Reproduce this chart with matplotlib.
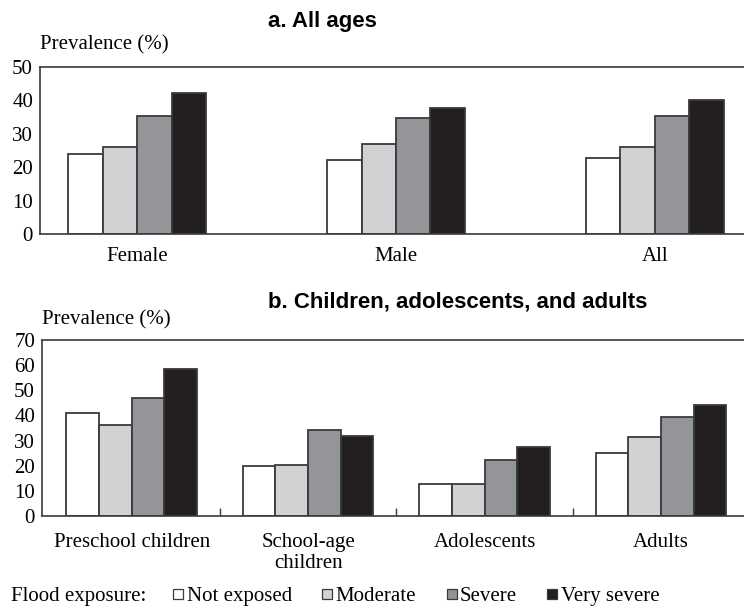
import numpy as np
import matplotlib
matplotlib.use("Agg")
import matplotlib.pyplot as plt
from matplotlib.lines import Line2D

# Daten: Prävalenz (%) nach Überschwemmungs-Exposition
exposure_levels = ["Not exposed", "Moderate", "Severe", "Very severe"]
exposure_colors = ["#ffffff", "#d1d2d4", "#939598", "#231f20"]

sex_groups = ["Female", "Male", "All"]
sex_values = [
    [24.0, 22.3, 22.9],   # Not exposed
    [25.9, 26.9, 25.9],   # Moderate
    [35.3, 34.7, 35.3],   # Severe
    [42.2, 37.7, 40.2],   # Very severe
]

age_groups = ["Preschool children", "School-age\nchildren", "Adolescents", "Adults"]
age_values = [
    [41.1, 19.7, 12.7, 24.9],
    [36.1, 20.4, 12.8, 31.6],
    [46.9, 34.1, 22.3, 39.2],
    [58.5, 31.7, 27.6, 44.3],
]

serif = ["Liberation Serif", "DejaVu Serif"]
title_font = ["Liberation Sans Narrow", "Liberation Sans"]
plt.rcParams["font.family"] = serif
plt.rcParams["font.size"] = 15

W, H = 744, 606
fig = plt.figure(figsize=(W / 100, H / 100), dpi=100)

edge = "#3a3a3a"


def grouped_bars(ax, groups, values, width, ymax, step, pad):
    x = np.arange(len(groups))
    n = len(values)
    for i, vals in enumerate(values):
        offs = (i - (n - 1) / 2) * width
        ax.bar(x + offs, vals, width, color=exposure_colors[i],
               edgecolor=edge, linewidth=1.3, zorder=2)
    ax.set_ylim(0, ymax)
    ax.set_yticks(np.arange(0, ymax + 1, step))
    ax.set_xticks(x)
    ax.set_xticklabels(groups, linespacing=1.15)
    ax.tick_params(axis="y", length=0, pad=5)
    ax.tick_params(axis="x", which="major", length=0, pad=pad)
    for s in ("top", "left", "bottom"):
        ax.spines[s].set_color(edge)
        ax.spines[s].set_linewidth(1.2)
    ax.spines["right"].set_visible(False)
    return x


# a. Alle Altersgruppen
ax_a = fig.add_axes([40 / W, 1 - 234 / H, (W - 40) / W, 167 / H])
grouped_bars(ax_a, sex_groups, sex_values, 0.133, 50, 10, pad=9.5)
ax_a.set_xlim(-0.375, 2.344)

# b. Kinder, Jugendliche, Erwachsene
ax_b = fig.add_axes([42 / W, 1 - 516 / H, (W - 42) / W, 176 / H])
grouped_bars(ax_b, age_groups, age_values, 0.185, 70, 10, pad=12.5)
ax_b.set_xlim(-0.508, 3.47)
ax_b.set_xticks([0.5, 1.5, 2.5], minor=True)
ax_b.tick_params(axis="x", which="minor", direction="in", length=6,
                 width=1.0, color=edge)

# Titel und Achsenbeschriftungen
fig.text(268 / W, 1 - 22 / H, "a. All ages", family=title_font,
         weight="bold", size=16, ha="left", va="center")
fig.text(268 / W, 1 - 302 / H, "b. Children, adolescents, and adults",
         family=title_font, weight="bold", size=16, ha="left", va="center")
fig.text(40 / W, 1 - 45 / H, "Prevalence (%)", ha="left", va="center")
fig.text(42 / W, 1 - 320 / H, "Prevalence (%)", ha="left", va="center")

# Legende (kleine Quadrate wie im Original)
fig.text(11 / W, 1 - 596 / H, "Flood exposure:", ha="left", va="center")
handles = [Line2D([], [], linestyle="none", marker="s", markersize=7,
                  markerfacecolor=c, markeredgecolor=edge,
                  markeredgewidth=0.9, label=l)
           for c, l in zip(exposure_colors, exposure_levels)]
fig.legend(handles=handles, loc="center left",
           bbox_to_anchor=(172 / W, 1 - 596 / H), ncol=4, frameon=False,
           handlelength=0.6, handletextpad=0.1,
           columnspacing=1.4, borderaxespad=0, borderpad=0)

fig.savefig("out.png", dpi=100)
